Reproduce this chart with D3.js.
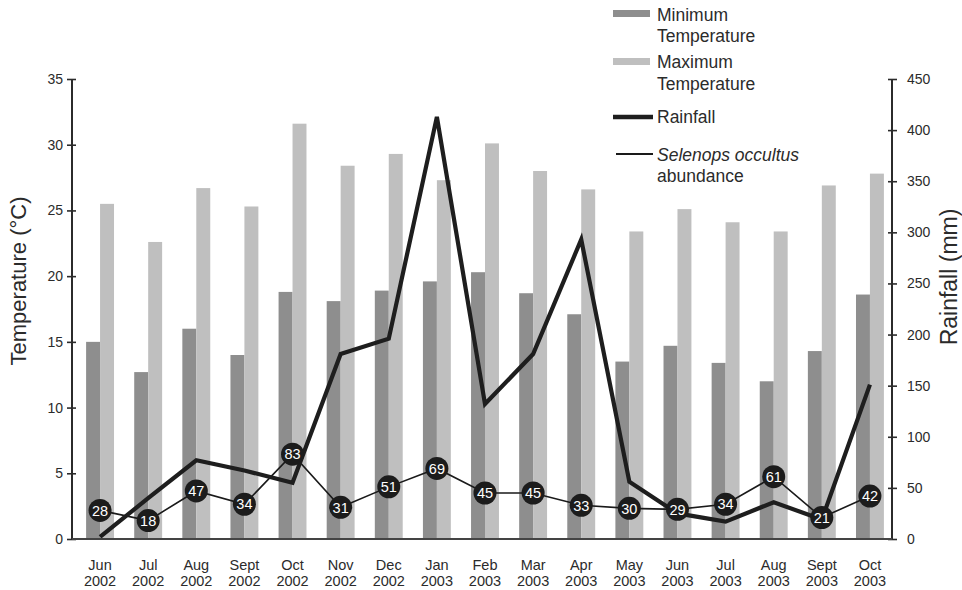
<!DOCTYPE html>
<html>
<head>
<meta charset="utf-8">
<script src="https://cdn.jsdelivr.net/npm/d3@7"></script>
<style>
  html, body { margin: 0; padding: 0; background: #fff; }
  svg { display: block; font-family: "Liberation Sans", Arial, Helvetica, sans-serif; }
</style>
</head>
<body>
<svg id="chart" width="962" height="590"></svg>
<script>
// Monthly climate record with Selenops occultus counts, Jun 2002 – Oct 2003
const monthNames = ["Jun", "Jul", "Aug", "Sept", "Oct", "Nov", "Dec", "Jan", "Feb", "Mar", "Apr", "May", "Jun", "Jul", "Aug", "Sept", "Oct"];
const years      = ["2002", "2002", "2002", "2002", "2002", "2002", "2002", "2003", "2003", "2003", "2003", "2003", "2003", "2003", "2003", "2003", "2003"];
const minTemp    = [15.0, 12.7, 16.0, 14.0, 18.8, 18.1, 18.9, 19.6, 20.3, 18.7, 17.1, 13.5, 14.7, 13.4, 12.0, 14.3, 18.6];
const maxTemp    = [25.5, 22.6, 26.7, 25.3, 31.6, 28.4, 29.3, 27.3, 30.1, 28.0, 26.6, 23.4, 25.1, 24.1, 23.4, 26.9, 27.8];
const rainfall   = [2, 40, 77, 67, 55, 181, 196, 413, 132, 181, 293, 56, 25, 17, 36, 19, 151];
const abundance  = [28, 18, 47, 34, 83, 31, 51, 69, 45, 45, 33, 30, 29, 34, 61, 21, 42];
const tempTicks  = [0, 5, 10, 15, 20, 25, 30, 35];
const rainTicks  = [0, 50, 100, 150, 200, 250, 300, 350, 400, 450];

const keys = monthNames.map((m, i) => m + " " + years[i]);

const svg = d3.select("#chart");
const plotLeft = 72, plotRight = 892, plotTop = 79, plotBottom = 539;
const ink = "#2b2b2b";
const minColor = "#8e8e8e", maxColor = "#bfbfbf";

const x = d3.scaleBand().domain(keys).range([76, 894]).paddingInner(0.42).paddingOuter(0.21);
const xSub = d3.scaleBand().domain(["min", "max"]).range([0, x.bandwidth()]);
const yT = d3.scaleLinear().domain([0, 35]).range([plotBottom, plotTop]);
const yR = d3.scaleLinear().domain([0, 450]).range([plotBottom, plotTop]);
const cx = k => x(k) + x.bandwidth() / 2;

// Temperature bars
const groups = svg.append("g").selectAll("g").data(keys).join("g")
  .attr("transform", k => `translate(${x(k)},0)`);
groups.append("rect")
  .attr("x", xSub("min")).attr("width", xSub.bandwidth())
  .attr("y", (k, i) => yT(minTemp[i])).attr("height", (k, i) => plotBottom - yT(minTemp[i]))
  .attr("fill", minColor);
groups.append("rect")
  .attr("x", xSub("max")).attr("width", xSub.bandwidth())
  .attr("y", (k, i) => yT(maxTemp[i])).attr("height", (k, i) => plotBottom - yT(maxTemp[i]))
  .attr("fill", maxColor);

// Abundance line (thin) and rainfall line (thick)
const seriesLine = d3.line().x((d, i) => cx(keys[i])).y(d => yR(d));
svg.append("path").datum(abundance).attr("d", seriesLine)
  .attr("fill", "none").attr("stroke", "#1a1a1a").attr("stroke-width", 1.6);
svg.append("path").datum(rainfall).attr("d", seriesLine)
  .attr("fill", "none").attr("stroke", "#1e1e1e").attr("stroke-width", 4.2)
  .attr("stroke-linejoin", "miter");

// Abundance markers with counts
const marks = svg.append("g").selectAll("g").data(abundance).join("g")
  .attr("transform", (d, i) => `translate(${cx(keys[i])},${yR(d)})`);
marks.append("circle").attr("r", 11.5).attr("fill", "#1c1c1c");
marks.append("text").text(d => d)
  .attr("text-anchor", "middle").attr("dy", "0.36em")
  .attr("fill", "#fff").attr("font-size", 14.5);

// Axes
const axL = svg.append("g").attr("transform", `translate(${plotLeft},0)`)
  .call(d3.axisLeft(yT).tickValues(tempTicks).tickSize(5).tickPadding(4).tickFormat(d3.format("d")));
const axR = svg.append("g").attr("transform", `translate(${plotRight},0)`)
  .call(d3.axisRight(yR).tickValues(rainTicks).tickSize(5).tickPadding(10).tickFormat(d3.format("d")));
[axL, axR].forEach(ax => {
  ax.select(".domain").remove();
  ax.selectAll(".tick line").attr("stroke", ink).attr("stroke-width", 1.6);
  ax.selectAll(".tick text").attr("fill", ink).attr("font-size", 14)
    .attr("font-family", "'Liberation Sans', Arial, sans-serif");
});
axL.selectAll(".tick line").attr("x1", 4);
axR.selectAll(".tick line").attr("x1", -4);
svg.append("line").attr("x1", plotLeft).attr("x2", plotLeft).attr("y1", plotTop).attr("y2", plotBottom)
  .attr("stroke", ink).attr("stroke-width", 2);
svg.append("line").attr("x1", plotRight).attr("x2", plotRight).attr("y1", plotTop).attr("y2", plotBottom)
  .attr("stroke", ink).attr("stroke-width", 2);
svg.append("line").attr("x1", plotLeft).attr("x2", plotRight).attr("y1", plotBottom).attr("y2", plotBottom)
  .attr("stroke", "#444").attr("stroke-width", 2.2);

// Month labels (two lines)
const xl = svg.append("g").selectAll("text").data(keys).join("text")
  .attr("x", k => cx(k)).attr("text-anchor", "middle")
  .attr("fill", ink).attr("font-size", 14.5);
xl.append("tspan").attr("x", k => cx(k)).attr("y", 570).text((k, i) => monthNames[i]);
xl.append("tspan").attr("x", k => cx(k)).attr("y", 586).text((k, i) => years[i]);

// Axis titles
svg.append("text").attr("transform", "translate(26,281) rotate(-90)")
  .attr("text-anchor", "middle").attr("fill", ink).attr("font-size", 22)
  .text("Temperature (°C)");
svg.append("text").attr("transform", "translate(957,277) rotate(-90)")
  .attr("text-anchor", "middle").attr("fill", ink).attr("font-size", 23)
  .text("Rainfall (mm)");

// Legend
const lg = svg.append("g").attr("fill", ink).attr("font-size", 17.5);
lg.append("rect").attr("x", 613).attr("y", 10).attr("width", 37).attr("height", 7).attr("fill", minColor);
lg.append("text").attr("x", 657).attr("y", 21).text("Minimum");
lg.append("text").attr("x", 657).attr("y", 42).text("Temperature");
lg.append("rect").attr("x", 613).attr("y", 58).attr("width", 37).attr("height", 7).attr("fill", maxColor);
lg.append("text").attr("x", 657).attr("y", 68).text("Maximum");
lg.append("text").attr("x", 657).attr("y", 90).text("Temperature");
lg.append("line").attr("x1", 613).attr("x2", 653).attr("y1", 117).attr("y2", 117)
  .attr("stroke", "#1e1e1e").attr("stroke-width", 4.5);
lg.append("text").attr("x", 657).attr("y", 123).text("Rainfall");
lg.append("line").attr("x1", 616).attr("x2", 653).attr("y1", 154).attr("y2", 154)
  .attr("stroke", "#1a1a1a").attr("stroke-width", 1.8);
lg.append("text").attr("x", 657).attr("y", 161).attr("font-style", "italic").text("Selenops occultus");
lg.append("text").attr("x", 657).attr("y", 182).text("abundance");
</script>
</body>
</html>
